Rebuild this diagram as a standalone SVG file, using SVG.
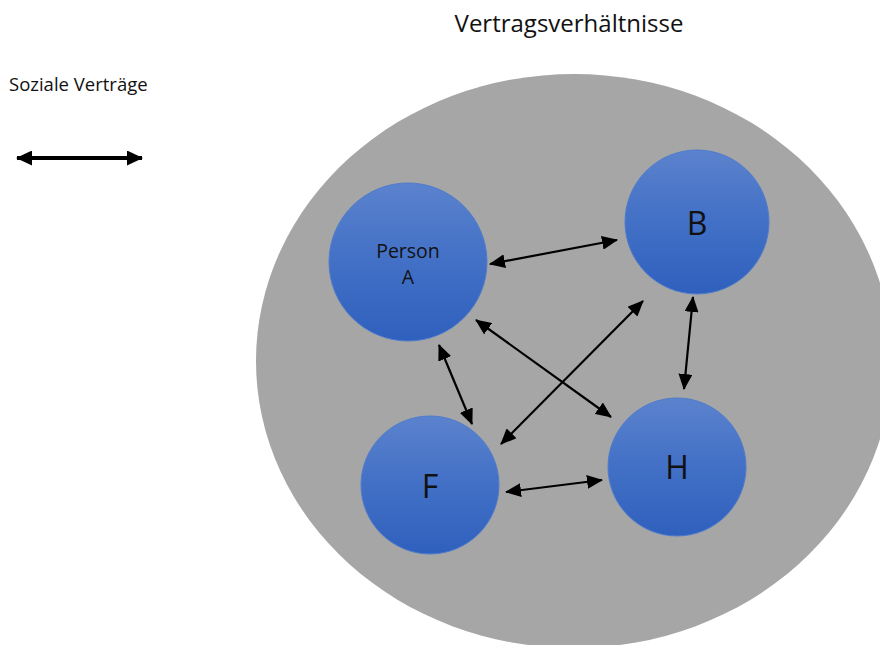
<svg xmlns="http://www.w3.org/2000/svg" width="880" height="645" viewBox="0 0 880 645">
  <style>
    .label { font-family: "Open Sans", "Liberation Sans", sans-serif; fill: #111111; text-anchor: middle; }
    .node-circle { fill: url(#nodeFill); stroke: #4f7ccc; stroke-width: 1; }
    .link { stroke: #000000; stroke-width: 2.2; fill: none; marker-start: url(#head); marker-end: url(#head); }
    .legend-link { stroke: #000000; stroke-width: 4; fill: none; marker-start: url(#headBig); marker-end: url(#headBig); }
  </style>
  <defs>
    <linearGradient id="nodeFill" x1="0" y1="0" x2="0" y2="1">
      <stop offset="0" stop-color="#5b82cd"/>
      <stop offset="0.5" stop-color="#4270c6"/>
      <stop offset="1" stop-color="#2f60bd"/>
    </linearGradient>
    <marker id="head" markerUnits="userSpaceOnUse" viewBox="0 0 16 14" refX="15" refY="7" markerWidth="16" markerHeight="14" orient="auto-start-reverse">
      <path d="M0,0 L16,7 L0,14 Z" fill="#000000"/>
    </marker>
    <marker id="headBig" markerUnits="userSpaceOnUse" viewBox="0 0 16 15" refX="15" refY="7.5" markerWidth="16" markerHeight="15" orient="auto-start-reverse">
      <path d="M0,0 L16,7.5 L0,15 Z" fill="#000000"/>
    </marker>
  </defs>

  <rect width="880" height="645" fill="#ffffff"/>

  <!-- titles -->
  <text class="label" x="569" y="32" font-size="24">Vertragsverhältnisse</text>
  <text x="9" y="91" font-family="'Open Sans', 'Liberation Sans', sans-serif" font-size="18.5" fill="#111111">Soziale Verträge</text>

  <!-- legend arrow -->
  <g id="legend">
    <line class="legend-link" x1="17" y1="158" x2="142" y2="158"/>
  </g>

  <!-- enclosing area -->
  <g id="area">
    <ellipse cx="574" cy="361" rx="318" ry="287" fill="#a6a6a6"/>
  </g>

  <!-- nodes -->
  <g id="node-a">
    <circle class="node-circle" cx="408" cy="262" r="79"/>
    <text class="label" x="408" y="258" font-size="19.5">Person</text>
    <text class="label" x="408" y="284" font-size="19.5">A</text>
  </g>
  <g id="node-b">
    <circle class="node-circle" cx="697" cy="222" r="72"/>
    <text class="label" x="697" y="235" font-size="32">B</text>
  </g>
  <g id="node-f">
    <circle class="node-circle" cx="430" cy="485" r="69"/>
    <text class="label" x="430" y="498" font-size="32">F</text>
  </g>
  <g id="node-h">
    <circle class="node-circle" cx="677" cy="467" r="69"/>
    <text class="label" x="677" y="479" font-size="32">H</text>
  </g>

  <!-- connectors -->
  <g id="connectors">
    <line class="link" x1="490" y1="264" x2="617" y2="240"/>
    <line class="link" x1="476" y1="320" x2="611" y2="417"/>
    <line class="link" x1="439" y1="345" x2="472" y2="424"/>
    <line class="link" x1="643" y1="301" x2="501" y2="444"/>
    <line class="link" x1="693" y1="297" x2="684" y2="389"/>
    <line class="link" x1="506" y1="492" x2="602" y2="480"/>
  </g>
</svg>
